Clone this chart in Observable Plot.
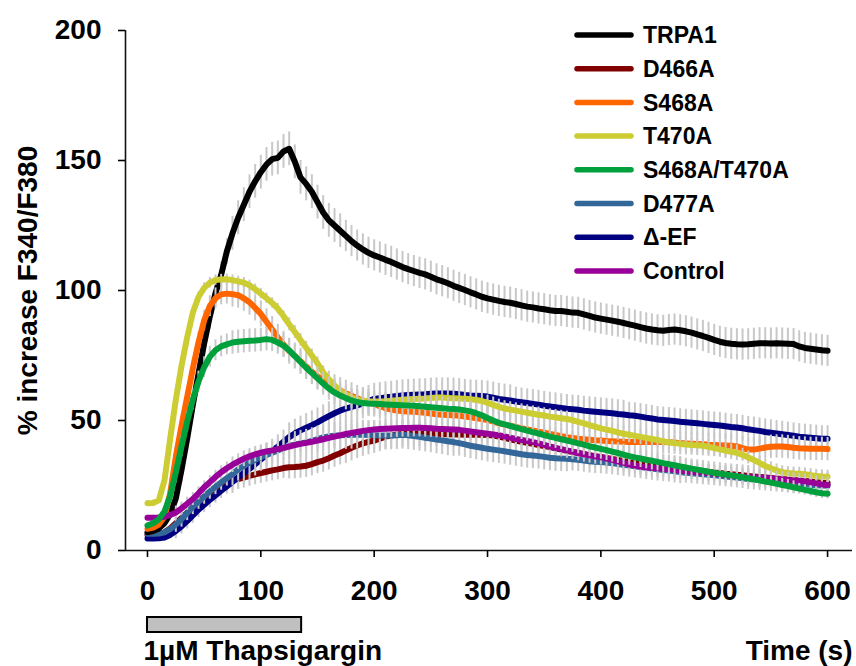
<!DOCTYPE html>
<html><head><meta charset="utf-8">
<script src="https://cdn.jsdelivr.net/npm/d3@7"></script>
<script src="https://cdn.jsdelivr.net/npm/@observablehq/plot@0.6"></script>
<style>body{margin:0;background:#fff}#chart{width:856px;height:666px}</style>
</head><body><div id="chart"></div>
<script>
const seriesNames = ["TRPA1","D466A","S468A","T470A","S468A/T470A","D477A","Δ-EF","Control"];
const seriesColors = ["#000000","#800000","#FF6600","#CCCC33","#00A03C","#336699","#000080","#990099"];
const drawOrder = ["D466A","Δ-EF","D477A","TRPA1","S468A","T470A","Control","S468A/T470A"];
const timeSec = d3.range(0, 601, 5);
const xTicks = [0,100,200,300,400,500,600];
const yTicks = [0,50,100,150,200];
const stimulus = [0, 136];
const stimulusLabel = "1µM Thapsigargin";
const xTitle = "Time (s)";
const yTitle = "% increase F340/F380";

const trpa1 = [7,7.5,8.5,10.5,14,20,31,43,56,68,
79.6,90,99,106,115,122,128,133,138,142,
145.5,148.5,150.5,151,153.5,154.5,149.5,143.5,141,138,
134,130,127,125,123,121,119,117.3,115.8,114.5,
113.5,112.7,111.8,111,110,109,108.2,107.5,106.8,106.2,
105.3,104.3,103.6,102.8,101.8,101,100.2,99.3,98.5,97.6,
97,96.5,96,95.6,95.3,94.8,94.3,93.8,93.5,93.1,
92.8,92.4,92.1,92.1,91.8,91.5,91.4,90.8,90.2,89.6,
89.2,88.8,88.4,88,87.5,87,86.5,85.9,85.4,85,
84.7,84.5,84.8,85,84.7,84.3,83.8,83.1,82.5,81.8,
81,80.3,79.8,79.5,79.3,79.2,79.3,79.5,79.7,79.7,
79.6,79.7,79.6,79.5,79.4,78.5,77.9,77.6,77.3,77,
76.8];
const d466a = [6,6,6.3,7,8.5,10.5,12.5,14.5,16.5,18.5,
20.5,22.3,24,25.5,26.5,27,27.5,28,28.7,29.3,
29.8,30.3,30.8,31.2,31.7,32,32.1,32.3,32.6,33.2,
34,34.6,35.5,36.5,37.4,38.5,39.5,40.4,41.2,41.8,
42.3,43,43.8,44.2,44.6,44.8,45,45,45,45,
45,44.9,44.8,44.7,44.6,44.6,44.5,44.5,44.5,44.5,
44.4,44.2,43.8,43.3,42.8,42.3,41.8,41.4,41,40.6,
40.2,39.8,39.3,38.8,38.3,37.9,37.5,37.1,36.7,36.3,
36,35.6,35.2,34.8,34.4,34,33.7,33.4,33.1,32.8,
32.5,32.3,32.1,31.9,31.7,31.5,31.2,30.9,30.6,30.3,
30,29.8,29.5,29.3,29.1,28.9,28.7,28.5,28.3,28.1,
27.9,27.7,27.5,27.3,27.1,26.9,26.7,26.5,26.3,26.1,
26];
const s468a = [8.3,8.8,10,13,22,36,48,59,70,80,
88.5,94,97,98.5,98.8,98.6,98.2,97,95.5,93.3,
91,88,85,82,79.3,76.7,74.8,72.8,70.8,68.8,
67,65.5,64,62.6,61.5,60.5,59.5,58.5,57.7,57,
56.3,55.5,54.8,54.2,53.8,53.6,53.5,53.4,53.2,53,
52.7,52.4,52.2,52.1,52,51.8,51.5,51.2,50.9,50.6,
50.2,49.6,48.9,48.4,48,47.5,47,46.6,46.2,45.7,
45.3,44.8,44.4,44,43.6,43.3,43,42.8,42.6,42.4,
42.3,42.1,42,41.9,41.8,41.7,41.7,41.7,41.7,41.7,
41.7,41.7,41.6,41.5,41.3,41.2,41.1,41,40.9,40.7,
40.6,40.5,40.4,40.3,40,39.4,38.8,38.8,39.2,39.6,
39.9,40,40,39.8,39.5,39.3,39.2,39.1,39.1,39.1,
39];
const t470a = [18.2,18.3,19.3,27,43,58,71,82,91.5,97.5,
101,103,104,104.2,104.3,104,103.5,103,102,100.5,
98.8,97,95.2,93,90.2,87,84,81,78,75,
72,68.5,65.8,63.5,61.5,60,58.8,58,57.6,57.4,
57.3,57.3,57.4,57.6,57.8,58,58.2,58.3,58.4,58.5,
58.7,58.8,58.8,58.7,58.6,58.5,58.4,58.2,57.9,57.5,
56.8,56,55.2,54.6,54.2,53.8,53.4,53,52.6,52.2,
51.9,51.5,51.2,50.9,50.6,50.1,49.5,48.9,48.2,47.6,
47,46.5,46,45.4,44.9,44.5,44.1,43.7,43.3,42.9,
42.5,42,41.6,41.3,41,40.8,40.6,40.5,40.3,39.9,
39.4,38.9,38.4,38,37.6,36.8,35.8,34.8,33.7,32.5,
31.6,30.8,30.1,29.8,29.6,29.5,29.3,29,28.7,28.5,
28.4];
const s468aT470a = [9.6,10.5,12,15,21,30,40,49.5,58,65,
70.5,74.5,77,78.5,79.3,80,80.3,80.5,80.7,80.8,
81,81.3,81,80,78.8,77,74.8,72.5,70.3,68.3,
66.2,64.2,62.3,60.8,59.6,58.6,57.7,57.1,56.7,56.5,
56.4,56.3,56.2,56.1,56,55.9,55.8,55.7,55.5,55.3,
55.1,54.9,54.7,54.5,54.4,54.2,53.9,53.5,52.8,52,
51,50,49.1,48.5,47.9,47.3,46.7,46.1,45.5,45,
44.4,43.8,43.3,42.8,42.3,41.8,41.2,40.7,40.1,39.6,
39.1,38.6,38,37.5,36.9,36.3,35.8,35.4,34.9,34.5,
34.1,33.6,33.2,32.8,32.3,31.9,31.5,31.1,30.7,30.3,
29.9,29.5,29.2,28.9,28.6,28.2,27.8,27.4,27,26.5,
26.1,25.7,25.2,24.8,24.3,23.8,23.3,22.9,22.4,22,
21.8];
const d477a = [6.4,6.4,6.5,7,8.2,10,12,14.5,16.8,18.8,
20.8,22.7,24.5,26.2,27.8,29.4,31.2,32.5,33.8,34.9,
35.9,36.8,37.6,38.5,39.4,40.2,40.7,41.2,41.6,42.2,
42.8,43.5,43.9,44.1,44.3,44.4,44.5,44.5,44.5,44.4,
44.3,44.2,44.2,44.2,44.3,44.5,44.3,44,43.7,43.4,
43.1,42.7,42.4,42,41.7,41.3,40.8,40.3,39.9,39.5,
39.1,38.8,38.5,38.2,37.8,37.4,37,36.7,36.5,36.3,
36,35.7,35.5,35.4,35.3,35.1,34.9,34.6,34.3,34.1,
34,33.8,33.6,33.3,33,32.7,32.4,32.1,31.8,31.5,
31.2,31,30.8,30.5,30.2,29.9,29.7,29.5,29.3,29.1,
28.9,28.7,28.5,28.3,28.1,27.8,27.5,27.3,27.1,26.9,
26.7,26.5,26.3,26.1,25.9,25.7,25.5,25.3,25.1,25,
24.9];
const deltaEF = [4.6,4.6,4.7,5,6,7.5,9.3,11.3,13.5,15.7,
17.6,19.5,21.2,23,24.7,26.4,28.2,29.8,31.4,33.2,
35,36.8,38.3,40,41.8,43.6,45,46.2,47.2,48.2,
49.3,50.5,51.7,52.8,53.8,54.6,55.2,55.8,56.6,57.5,
58.3,58.6,58.9,59.1,59.4,59.6,59.8,59.9,60,60.1,
60.3,60.4,60.4,60.4,60.3,60.1,59.8,59.6,59.5,59.4,
59.2,58.8,58.3,58,57.7,57.3,57,56.7,56.4,56.1,
55.7,55.4,55.1,54.8,54.5,54.3,54.1,53.8,53.6,53.4,
53.2,53,52.8,52.5,52.3,52,51.8,51.5,51.1,50.8,
50.4,50.2,50,49.8,49.5,49.3,49.1,48.9,48.7,48.5,
48.3,48.1,47.8,47.5,47.3,47,46.6,46.3,46,45.6,
45.3,45,44.7,44.4,44.1,43.8,43.6,43.4,43.2,43,
43];
const control = [12.6,12.6,12.7,13,13.6,14.6,16.2,18,19.8,22,
24.3,26.3,28.3,30.1,31.6,33,34.2,35.3,36.2,37,
37.6,38.1,38.5,39,39.5,40,40.5,41,41.4,41.8,
42.3,42.8,43.3,43.8,44.3,44.8,45.2,45.6,46,46.3,
46.5,46.7,46.8,46.9,47,47.1,47.1,47.2,47.2,47.1,
47,46.8,46.7,46.6,46.5,46.4,46.1,45.8,45.5,45.2,
44.9,44.6,44.3,43.9,43.4,42.9,42.5,42.1,41.7,41.2,
40.6,40,39.5,39,38.5,38,37.5,37,36.6,36.2,
35.9,35.4,34.9,34.3,33.7,33.1,32.7,32.3,32,31.8,
31.6,31.4,31.3,31,30.8,30.5,30.3,30.1,30,29.8,
29.5,29.3,29,28.8,28.7,28.5,28.3,28.2,28.1,28,
27.8,27.5,27.3,27.1,26.9,26.7,26.5,26.2,25.8,25.4,
25.2];

// SEM read at 50 s steps (0, 50, ..., 600)
const semTRPA1 = [1,5,6.5,6.5,6,6,6,6,6,6,6,6,6];
const semD466A = [1,2.5,4,4.5,5,5,5,4.5,4.5,4.5,4,4,4];
const semS468A = [1,4,5,5,5,5,5,4.5,4.5,4.5,4.5,4.5,4.5];
const semT470A = [1,2,2,2.5,3,3,3,3,3,3,3,2.5,2.5];
const semS468AT470A = [1,4,4.5,4.5,4.5,4.5,4,4,4,3.5,3,2.5,2];
const semD477A = [1,3,4.5,5,5.5,5.5,5,5,4.5,4.5,4,4,4];
const semDeltaEF = [1,3,4.5,5.5,6,6,6,5.5,5.5,5,5,5,5];
const semControl = [1,2.5,3,3.5,3.5,3.5,3.5,3,3,3,3,3,3];

const seriesValues = [trpa1,d466a,s468a,t470a,s468aT470a,d477a,deltaEF,control];
const seriesSem = [semTRPA1,semD466A,semS468A,semT470A,semS468AT470A,semD477A,semDeltaEF,semControl];

const rows = seriesNames.flatMap((name, i) => seriesValues[i].map((v, j) => ({
  series: name, t: timeSec[j], v, sem: seriesSem[i][Math.round(timeSec[j] / 50)]
})));

const W = 856, H = 666;
const mL = 125, mR = 4, mT = 30, mB = 116;
const xDomain = [-19.4, 622];
const font = "'Liberation Sans', Arial, Helvetica, sans-serif";

const marks = [];
for (const name of drawOrder) {
  const i = seriesNames.indexOf(name);
  const d = rows.filter(r => r.series === name);
  marks.push(Plot.ruleX(d, {x: "t", y1: r => r.v - r.sem, y2: r => r.v + r.sem, stroke: "#c8c8c8", strokeWidth: 2}));
  marks.push(Plot.line(d, {x: "t", y: "v", stroke: seriesColors[i], strokeWidth: 6, strokeLinejoin: "round", strokeLinecap: "round"}));
}

// legend drawn inside the frame
const legendMark = (index, scales, values, dims) => {
  const g = d3.create("svg:g").attr("font-family", font).attr("font-weight", "bold")
    .attr("font-size", 23).attr("text-anchor", "start");
  seriesNames.forEach((name, i) => {
    const y = 35 + i * 33.7;
    g.append("line").attr("x1", 577).attr("x2", 631).attr("y1", y).attr("y2", y)
      .attr("stroke", seriesColors[i]).attr("stroke-width", 5.5).attr("stroke-linecap", "round");
    g.append("text").attr("x", 643).attr("y", y).attr("dy", "0.36em").attr("fill", "black").text(name);
  });
  return g.node();
};

const stimulusMark = (index, scales, values, dims) => {
  const g = d3.create("svg:g");
  const x0 = scales.x(stimulus[0]), x1 = scales.x(stimulus[1]);
  const yb = dims.height - dims.marginBottom;
  g.append("rect").attr("x", x0).attr("y", yb + 67).attr("width", x1 - x0).attr("height", 15)
    .attr("fill", "#c0c0c0").attr("stroke", "black").attr("stroke-width", 2);
  return g.node();
};

const chart = Plot.plot({
  width: W, height: H,
  marginLeft: mL, marginRight: mR, marginTop: mT, marginBottom: mB,
  style: {fontFamily: font, fontWeight: "bold", color: "black", background: "white", overflow: "visible"},
  x: {domain: xDomain},
  y: {domain: [0, 200]},
  marks: [
    ...marks,
    Plot.ruleX([xDomain[0]], {stroke: "#111", strokeWidth: 1.6}),
    Plot.ruleY([0], {stroke: "#111", strokeWidth: 1.6}),
    Plot.axisY({ticks: yTicks, tickSize: 7, tickPadding: 17, fontSize: 28, fontWeight: "bold", label: null, strokeWidth: 1.6}),
    Plot.axisX({ticks: xTicks, tickSize: 7, tickPadding: 23, fontSize: 28, fontWeight: "bold", label: null, strokeWidth: 1.6}),
    Plot.text([yTitle], {frameAnchor: "left", textAnchor: "middle", lineAnchor: "middle", rotate: -90, dx: -97, fontSize: 28, fontWeight: "bold"}),
    Plot.text([xTitle], {frameAnchor: "bottom-right", textAnchor: "end", lineAnchor: "middle", dy: 101, fontSize: 28, fontWeight: "bold"}),
    Plot.text([stimulusLabel], {frameAnchor: "bottom-left", textAnchor: "start", lineAnchor: "middle", dx: 18, dy: 101, fontSize: 28, fontWeight: "bold"}),
    stimulusMark,
    legendMark
  ]
});
document.getElementById("chart").appendChild(chart);
</script>
</body></html>
